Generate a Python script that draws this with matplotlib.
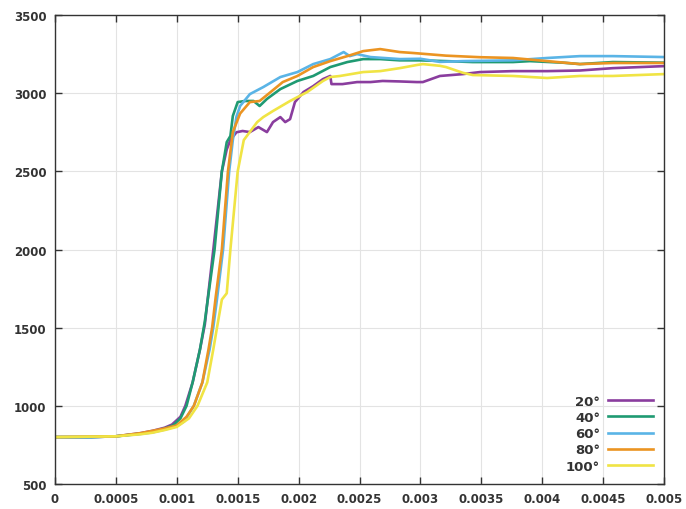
import matplotlib.pyplot as plt
import numpy as np

# angles -> curves (x in ms, scaled later to s)
labels = ["20°", "40°", "60°", "80°", "100°"]
colors = ["#8a3d9e", "#1f9a72", "#5ab4e6", "#eb9422", "#f0e444"]

x20 = [0, 0.3, 0.5, 0.7, 0.8, 0.9, 0.96, 1.03, 1.07, 1.13, 1.19, 1.23, 1.30, 1.37, 1.41, 1.44,
       1.49, 1.54, 1.60, 1.67, 1.74, 1.79, 1.85, 1.89, 1.93, 1.97, 2.04, 2.12, 2.20, 2.26, 2.27,
       2.36, 2.48, 2.59, 2.69, 2.83, 2.97, 3.02, 3.16, 3.35, 3.49, 3.76, 4.04, 4.31, 4.58, 5.0]
y20 = [800, 800, 805, 825, 840, 860, 880, 930, 1000, 1150, 1360, 1520, 2000, 2500, 2640, 2700,
       2750, 2758, 2751, 2783, 2751, 2815, 2847, 2815, 2834, 2943, 3007, 3045, 3090, 3110, 3058,
       3058, 3071, 3071, 3078, 3075, 3071, 3071, 3110, 3122, 3135, 3141, 3141, 3145, 3160, 3173]

x40 = [0, 0.3, 0.5, 0.7, 0.8, 0.9, 0.97, 1.03, 1.08, 1.13, 1.19, 1.23, 1.31, 1.37, 1.41,
       1.44, 1.46, 1.50, 1.56, 1.63, 1.68, 1.74, 1.85, 1.99, 2.12, 2.26, 2.40, 2.53, 2.67, 2.83,
       3.0, 3.21, 3.43, 3.76, 3.90, 4.17, 4.31, 4.58, 5.0]
y40 = [800, 800, 805, 822, 835, 855, 875, 920, 1000, 1150, 1360, 1540, 2000, 2500, 2687,
       2726, 2854, 2943, 2950, 2950, 2918, 2963, 3026, 3078, 3110, 3167, 3199, 3218, 3218, 3210,
       3210, 3205, 3199, 3199, 3205, 3195, 3186, 3199, 3195]

x60 = [0, 0.3, 0.5, 0.7, 0.8, 0.9, 1.0, 1.06, 1.14, 1.21, 1.27, 1.30, 1.33, 1.38, 1.43, 1.46,
       1.49, 1.52, 1.60, 1.71, 1.85, 1.99, 2.12, 2.26, 2.37, 2.42, 2.48, 2.59, 2.83, 3.0, 3.16,
       3.35, 3.76, 4.04, 4.31, 4.58, 5.0]
y60 = [800, 800, 805, 820, 830, 848, 870, 900, 1000, 1150, 1363, 1504, 1683, 2000, 2500, 2700,
       2850, 2918, 2994, 3039, 3103, 3135, 3186, 3218, 3263, 3237, 3250, 3231, 3218, 3220, 3200,
       3205, 3210, 3225, 3237, 3237, 3231]

x80 = [0, 0.5, 0.7, 0.8, 0.9, 1.0, 1.08, 1.14, 1.21, 1.26, 1.29, 1.32, 1.37, 1.42, 1.46, 1.52,
       1.60, 1.68, 1.77, 1.87, 1.99, 2.12, 2.26, 2.40, 2.53, 2.67, 2.83, 2.94, 3.21, 3.49, 3.76,
       3.90, 4.04, 4.31, 4.58, 5.0]
y80 = [800, 805, 825, 840, 855, 875, 930, 1000, 1150, 1360, 1500, 1700, 2000, 2500, 2751, 2870,
       2943, 2950, 3007, 3071, 3110, 3167, 3205, 3237, 3269, 3282, 3263, 3257, 3240, 3230, 3225,
       3215, 3205, 3186, 3193, 3193]

x100 = [0, 0.5, 0.7, 0.8, 0.9, 1.0, 1.1, 1.17, 1.25, 1.30, 1.33, 1.37, 1.41, 1.44, 1.50, 1.55,
        1.66, 1.71, 1.79, 1.93, 2.07, 2.20, 2.26, 2.34, 2.53, 2.67, 2.83, 2.97, 3.02, 3.16, 3.21,
        3.35, 3.43, 3.76, 4.04, 4.31, 4.58, 5.0]
y100 = [800, 805, 818, 828, 845, 865, 920, 1000, 1150, 1363, 1500, 1680, 1720, 2000, 2500, 2700,
        2815, 2847, 2886, 2950, 3007, 3078, 3103, 3110, 3135, 3141, 3160, 3180, 3186, 3175, 3167,
        3130, 3116, 3110, 3097, 3110, 3110, 3122]

xs = [x20, x40, x60, x80, x100]
ys = [y20, y40, y60, y80, y100]

xticks = [0, 0.0005, 0.001, 0.0015, 0.002, 0.0025, 0.003, 0.0035, 0.004, 0.0045, 0.005]
xticklabels = ["0", "0.0005", "0.001", "0.0015", "0.002", "0.0025", "0.003", "0.0035",
               "0.004", "0.0045", "0.005"]
yticks = [500, 1000, 1500, 2000, 2500, 3000, 3500]

fig = plt.figure(figsize=(6.86, 5.10), dpi=100)
ax = fig.add_axes([55 / 686, 25 / 510, 609 / 686, 469 / 510])

for x, y, lab, c in zip(xs, ys, labels, colors):
    ax.plot(np.array(x) / 1000, y, color=c, lw=1.9, label=lab)

ax.set_xlim(0, 0.005)
ax.set_ylim(500, 3500)
ax.set_xticks(xticks)
ax.set_xticklabels(xticklabels)
ax.set_yticks(yticks)
ax.grid(True, color="#e3e3e3", lw=0.8)
ax.set_axisbelow(True)
for s in ax.spines.values():
    s.set_color("#333333")
    s.set_linewidth(1.0)
ax.tick_params(direction="in", length=5, width=1, color="#333333",
               top=True, right=True, labelsize=8.5, labelcolor="#333333", pad=6)
for t in ax.get_xticklabels() + ax.get_yticklabels():
    t.set_fontweight("bold")

leg = ax.legend(loc="lower right", frameon=False, markerfirst=False, handlelength=3.4,
                labelspacing=0.25, borderaxespad=0.45, handletextpad=0.6,
                prop={"size": 9.5, "weight": "bold"})
for t in leg.get_texts():
    t.set_color("#333333")

fig.savefig("out.png", dpi=100)
